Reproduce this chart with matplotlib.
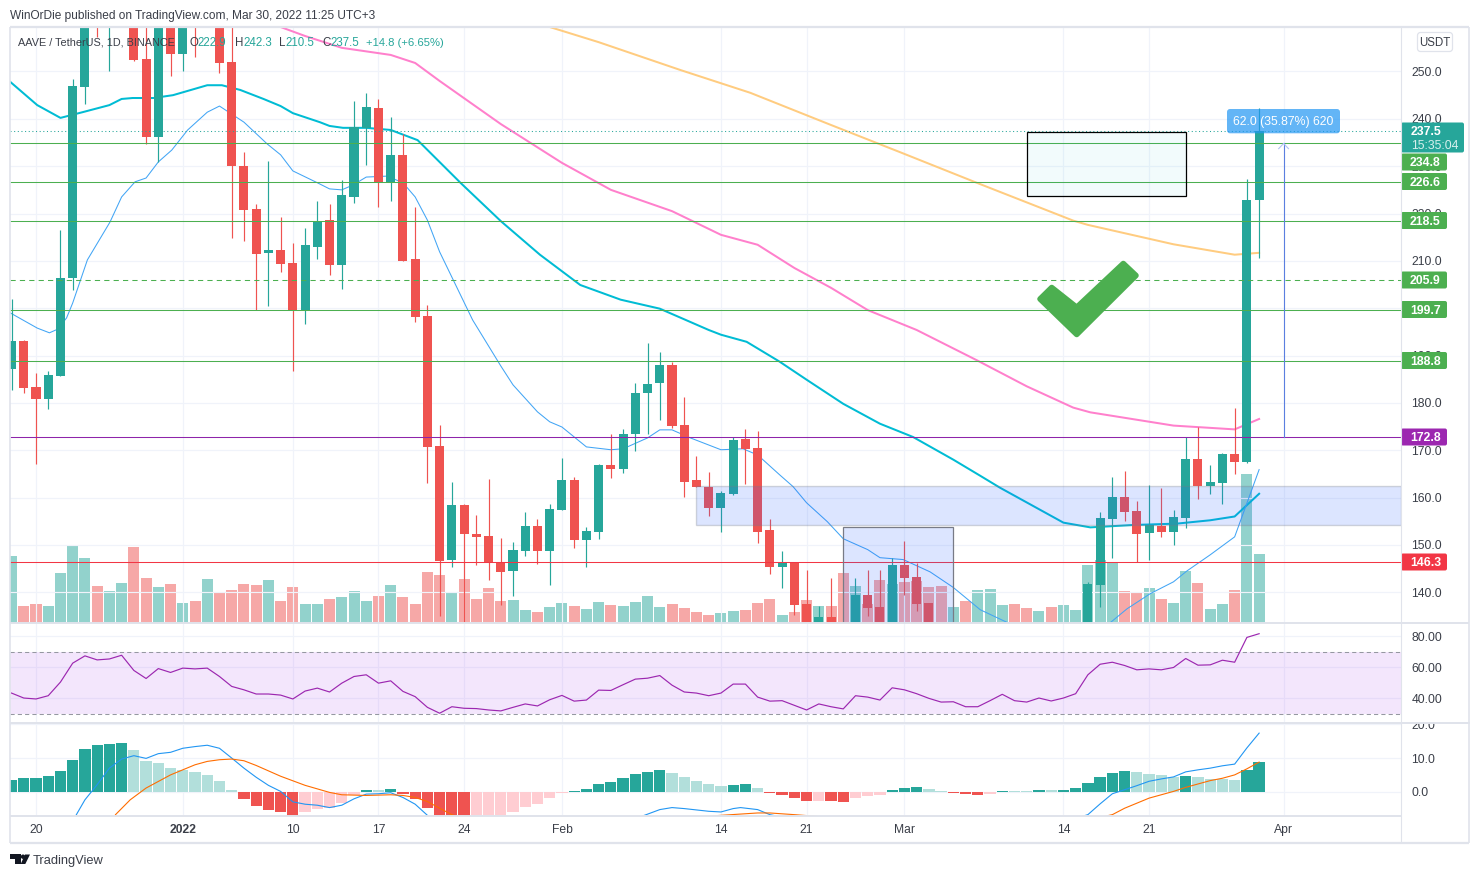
import numpy as np
import matplotlib
matplotlib.use("Agg")
import matplotlib.pyplot as plt
from matplotlib.patches import Rectangle, FancyBboxPatch, Polygon, Circle
from matplotlib.colors import to_rgba
from matplotlib.transforms import ScaledTranslation

plt.rcParams['font.family'] = ['Liberation Sans', 'DejaVu Sans']

# ---- data: daily candles, first candle is 2 days before Dec 20 2021 ----
first_day = -2
opens = [187.2,193.1,183.4,180.8,185.7,206.4,246.7,270,262,265,
         262,252.6,236.2,262,253.7,265,261,262,252,230,
         221,211.7,212.3,209.6,199.6,212.9,218.6,209.1,223.5,238.1,
         242.3,226.7,232.4,210.4,198.4,170.9,146.8,158.5,152.3,151.9,
         146.4,144.5,148.8,154,148.8,157.4,163.8,151.1,152.8,166.9,
         166.1,173.5,182.1,184.2,188,175.4,163.8,162.3,157.8,160.8,
         172.4,170.5,153.2,145.4,146.4,137.6,133,134.8,132.5,133,
         139.5,136.9,132,145.8,143.3,137.8,132,130,131.5,130,
         131,131.5,132.5,131,130,131,130,131,132,141.5,
         155.5,160.1,157.2,152.6,154,152.8,155.7,168.2,162.5,163.1,
         169.3,167.6,222.9]
highs = [202,193.3,186.3,186.8,216.5,248.4,265,272,270,272,
         268,262,264,264,264,268,266,266,262,233,
         222,231.1,219.3,213.8,217,222.7,222,227.1,243.8,245.5,
         244.2,240.4,236.8,221.4,200.7,175.4,163.3,158.7,156.4,164,
         151.5,150.7,157,155.5,158.7,168.4,164.4,153.8,167.1,173.5,
         174.5,184.2,192.7,190.8,188.7,181.3,168.8,165.4,161.4,172.8,
         174.5,174.1,155.5,148.8,146.4,144.7,137.1,143.1,133,143.1,
         144.7,144.7,147.3,150.9,146.2,137.8,132.5,132,132,131.5,
         132,133,133,131.5,131.5,131.5,132,132.5,142.2,157,
         164.4,165.6,159.3,162.6,162,157.4,172.8,174.8,166.9,169.5,
         179,227.2,242.3]
lows = [182.7,182.1,167.1,178.7,185.7,203.9,243.1,257.3,250.1,261,
        252.2,234.7,230.9,249,250.1,253,260.5,249.7,214.8,214.2,
        199.6,200.5,207.7,186.8,196.7,210.4,207,204.1,222.2,230.3,
        221.4,222.7,210,197.1,163.1,135,145.4,133,145.8,142.6,
        137.4,139.3,147.7,146,141.6,157.4,149.4,145.4,151.3,164.2,
        165.2,169.9,173.5,176.4,174.7,160.1,162.3,156,152.8,160.6,
        162.9,150.4,143.9,140.9,135.2,132,132,132,130.5,132,
        135,132,131,139.5,136,131,129.5,129.5,130,129.5,
        130.5,131,130.5,129.5,129,129.5,129.5,130.5,131,136.8,
        147.2,155,146.3,146.9,151.7,149.9,153.5,159.6,160.8,158.7,
        164.9,167.2,210.5]
closes = [193.1,183.2,180.8,185.9,206.4,246.9,262,261,268,268,
          252.4,236.2,262,253.7,262,260.5,264,251.8,230,220.8,
          211.5,212.3,209.4,199.6,213.4,218.4,209.1,223.9,238.3,242.5,
          226.7,232.4,210,198.2,170.7,146.6,158.5,152.3,151.7,146.3,
          144.3,149,154,148.8,157.6,163.8,151.1,153,166.9,166.1,
          173.5,182.1,184,188,175.1,163.3,162.3,157.8,161,172.2,
          170.3,152.8,145.4,146.4,137.3,133,134.8,133,131,139.5,
          136.6,132,145.8,143.1,137.6,132,130,131.5,130,131,
          131.5,132.5,131,130,131,130,131,132,141.8,155.7,
          160.1,157,152.4,154.1,152.8,155.9,168.2,162.5,163.3,169.3,
          167.6,222.9,237.5]
volume_k = [67.3,17.3,19.3,17.3,50.3,77.3,65.3,37.3,32.3,40.3,
            76.3,45.3,36.3,39.3,20.3,22.3,44.3,31.3,33.3,39.3,
            38.3,43.3,22.3,36.3,19.3,19.3,24.3,26.3,32.3,22.3,
            27.3,38.3,26.3,19.3,51.3,48.3,30.3,44.3,24.3,35.3,
            22.3,23.3,13.3,11.3,16.3,20.3,17.3,14.3,21.3,18.3,
            17.3,21.3,27.3,16.3,19.3,15.3,11.3,8.3,10.3,12.3,
            13.3,20.3,24.3,8.3,11.3,23.3,17.3,17.3,50.3,37.3,
            19.3,43.3,39.3,41.3,42.3,36.3,37.3,16.3,22.3,33.3,
            34.1,18.3,19.3,15.2,12.2,16.2,18.3,13.2,58,63.5,
            60.5,32,31,35,24,20,52,40,14,19,
            33,149,69]

ema20_days = [-2.1,0.1,1.1,1.8,2.5,3,4.2,6.05,7,8.1,9,10,11.1,12.4,14,15,17,18.9,20,21,22.2,23,24,25,25.9,27,28.7,30,31,32,33,35.7,38,39,41,42,43,45,47,48,50,51,52,53.5,56,57.8,59,60.8,61.9,63,64.7,66,68,69,70.9,73.1,75,77.2,79.5,82,84,86,87.8,89.2,91.1,93,94.1,96,98,100]
ema20 = [199,195.8,194.8,195.6,197.95,201.1,210.2,218.2,223.5,226.7,227.5,230.9,233.4,237.65,241.4,242.7,239.3,234.7,232.4,229,227.5,226.5,225.2,225,226,227.7,227.9,226.5,223.5,218.6,211.9,197.5,187.8,183.8,178.1,176,174.9,170.7,170.1,170.3,172.6,174.3,174.3,172.6,170.1,170.3,169,164.8,162.3,158.9,154.9,151.3,149,147.3,146.9,144.3,141,136.3,133.5,130,129,130.5,133.5,136.5,139.7,142.2,144.5,147.9,151.7,165.9]
ema50_days = [-2.1,0.1,2,3.8,6,7,7.9,9.6,11.2,14,15.2,16.7,18.6,20,21,23.2,24,25.1,27,29,31.2,34.7,38,41.2,44.5,47.8,51,55,56,58.1,60.8,63,66,69,71.7,75,77.2,78.8,84,86.2,89.7,93.3,96,98,100]
ema50 = [247.8,242.9,240.2,241.4,242.9,244.2,244.4,244.4,245,247.1,247.1,246.1,244.2,242.7,241.2,239.3,238.5,238.1,238.1,237.65,235.5,226.5,218.4,211.3,204.9,201.8,199.9,195.4,194.4,192.9,188.7,184.9,179.8,175.6,172.8,168,164.6,162.1,154.7,153.7,154.2,154.5,155.2,156,160.8]
ema100_days = [20,22,25,29,31,33,38,43,47,52,56,59,62,65,68,72,77,81,84.8,86.2,93,98,100]
ema100 = [259.4,257.5,255,253.5,251.8,248,238.9,230.7,225,220.5,215.5,213.4,208.5,204.3,199.6,195.4,188.9,183.5,179,178,175.2,174.4,176.6]
ema200_days = [42,46,52.7,58.4,65,70.6,77.2,84.8,86,93,98,100]
ema200 = [259.4,256.2,250.3,245.5,238.7,233,226.2,218.5,217.6,213.5,211.3,211.7]

rsi = [43.2,40,39.4,41.5,50.3,62.5,67.2,64.6,65.2,67.6,
       57.8,52.6,59,56.5,59.3,58.8,59.3,53.9,47.5,45.3,
       42.6,42.6,41.9,39.4,44.5,46.4,43.9,49.6,53.9,55,
       49.6,51.1,44.3,40.9,34,30.2,34.4,33.4,33.2,32.3,
       31.7,34,36.2,34.9,38.9,41.7,38,38.7,45.1,44.9,
       48.6,52.2,52.8,54.5,48.3,43.9,43.2,41.5,43.2,49,
       49,40.6,38,38.3,35.3,32.3,36.2,34.4,33,41.5,
       40.6,38.7,46.6,45.3,42.8,39.8,37.4,37.6,34.4,34.4,
       38.3,42.4,38.3,37.4,40,38.1,40,42.8,55,61.8,
       63.1,61,58.2,58.8,58.2,59.7,65.5,61.2,61.4,64.4,
       63.1,79.1,81.5]
macd_hist = [3.6,4.2,4.2,4.8,6.2,9.5,12.8,14,14.3,14.6,
             12.5,9.2,8.6,7.1,6.5,5.9,5,3.3,0.6,-2.1,
             -4.2,-5.3,-5.9,-7.5,-5.9,-5,-4.8,-3.3,-1.1,0.6,
             0.5,0.9,-0.6,-2.1,-4.8,-8,-9,-10,-9.5,-8.5,
             -7.2,-5.9,-4.5,-3.6,-1.8,-0.4,0.3,0.9,2.4,3,
             4.2,5.3,5.9,6.5,5.6,4.5,3.3,2.4,1.8,2.1,
             2.4,1.2,-0.3,-0.9,-1.8,-2.7,-2.6,-2.7,-3,-1.8,
             -1.2,-0.9,0.6,1.2,1.5,0.9,0.3,-0.3,-0.6,-0.9,
             -0.6,0.3,0.25,0.2,0.6,0.55,0.6,1.2,2.7,4.5,
             5.6,6.2,5.9,5.3,5,4.5,4.8,4.5,3.9,3.85,
             3.6,6.5,8.9]
macd_days = [3.3,4,5,6,7,8,9,10,11,12,13,14,15,16,17,18,19,20,21,22,23,24,25,26,27,28,29,30,31,32,34,38,44,49,51,52,53,54,55,56,57,57.6,59,60,63,70,78,84,86,87,88,89,90,91,92,93,94,95,96,97,98,99,100]
macd_line = [-6.8,-2.4,2.1,7,9.7,10.7,9.9,11.3,11.7,12.9,13.4,13.8,12.9,10,7,4.3,1.9,0.1,-3,-3.7,-4,-4.7,-4,-2.1,-0.7,-0.6,-0.3,-1.7,-3.7,-7,-12,-18,-15,-8,-5.3,-4.7,-5,-5.4,-5.8,-6,-5,-4.7,-5.3,-6.8,-9,-11,-11,-9,-6.8,-3.6,-0.6,0.6,1.8,3.1,3.8,4.4,5.9,6.5,7,7.7,8.2,13,17.4]
signal_days = [6.5,7.7,9,11,13,14,15,16,17,18,20,22,24,25,27,29,30,31,32,33,34,38,44,50,56,59,60,62,70,78,84,88,89,90,91,92,93,94,95,96,97,98,99,100]
signal_line = [-6.8,-2.4,1.1,5,8,9,9.5,9.7,9.2,7.8,4.6,1.9,-0.2,-0.9,-1.1,-0.9,-1.1,-1.7,-2.9,-4.9,-6.8,-11,-12,-8.5,-7,-6.3,-6.3,-6.8,-9,-11,-10,-6.8,-4.9,-3.4,-1.9,-0.9,0.1,1.3,2.3,3.3,4,5,6.8,8.8]

price_ticks = [140,150,160,170,180,190,200,210,220,230,240,250]
rsi_ticks = [40,60,80]
macd_ticks = [0,10,20]
time_ticks = [0,12,21,28,35,43,56,63,71,84,91,102]
time_labels = ['20','2022','10','17','24','Feb','14','21','Mar','14','21','Apr']
green_levels = [234.8,226.6,218.5,199.7,188.8]
dashed_level = 205.9
purple_level = 172.8
red_level = 146.3
last_price = 237.5

UP, DOWN = '#26a69a', '#ef5350'
GRID = '#f0f3fa'; SEP = '#e0e3eb'; TXT = '#3a3e48'
W, H = 1479, 878

fig = plt.figure(figsize=(W/100, H/100), dpi=100, facecolor='white')
def pane(y0, y1):
    # one pixel lower than the nominal position, as the reference sits
    return fig.add_axes([10/W, 1-(y1+1)/H, 1391/W, (y1-y0)/H])

xlim = (-2.126, 111.6)
days = np.arange(len(opens)) + first_day
opens_, closes_ = np.array(opens), np.array(closes)
is_up = closes_ >= opens_
cols = [UP if u else DOWN for u in is_up]

ax = pane(27, 623)
vol = ax.twinx()
vol.set_zorder(ax.get_zorder()-1)
ax.patch.set_visible(False)
vol.set_ylim(0, 596); vol.set_yticks([])
vol.bar(days, volume_k, width=0.9, color=cols, alpha=0.5, linewidth=0)
for s in vol.spines.values(): s.set_visible(False)

ax.set_xlim(*xlim); ax.set_ylim(133.5, 259.4)
ax.set_yticks(price_ticks); ax.set_yticklabels([f'{t:.1f}' for t in price_ticks])
ax.yaxis.tick_right()

# moving averages under candles
ax.plot(ema200_days, ema200, color='#ffcc80', lw=1.45, zorder=2)
ax.plot(ema100_days, ema100, color='#ff80cc', lw=1.45, zorder=2)
ax.plot(ema50_days, ema50, color='#00bcd4', lw=1.45, zorder=2)
ax.plot(ema20_days, ema20, color='#42a5f5', lw=0.75, zorder=2)
# candles
ax.vlines(days, lows, highs, colors=cols, lw=0.85, zorder=3)
ax.bar(days, closes_-opens_, bottom=opens_, width=0.74, color=cols, linewidth=0, zorder=3.1)
# level lines
ax.hlines(green_levels, *xlim, colors='#4caf50', lw=0.75, zorder=4)
ax.hlines(dashed_level, *xlim, colors='#4caf50', lw=0.75, linestyles=(0,(5,4)), zorder=4)
ax.hlines(purple_level, *xlim, colors='#8e24aa', lw=0.75, zorder=4)
ax.hlines(red_level, *xlim, colors='#f23645', lw=0.75, zorder=4)
ax.hlines(last_price, *xlim, colors=UP, lw=0.75, linestyles=(0,(1,2.5)), zorder=4)
# drawn zones
ax.add_patch(Rectangle((54, 154.2), xlim[1]-54, 8.2, fc=to_rgba('#2962ff',0.16), ec=to_rgba('#787b86',0.3), lw=1, zorder=5))
ax.add_patch(Rectangle((66, 125), 9, 153.8-125, fc=to_rgba('#2962ff',0.16), ec='#787b86', lw=0.9, zorder=5))
ax.add_patch(Rectangle((81.05, 223.7), 12.95, 13.6, fc=to_rgba('#00bcd4',0.05), ec='black', lw=0.9, zorder=5))
# measure arrow
ax.plot([102,102],[purple_level,green_levels[0]], color='#5b7fe0', lw=0.8, zorder=5)
ax.plot([101.6,102,102.4],[233.7,234.8,233.7], color='#b3c2f2', lw=0.8, zorder=5)

rsi_ax = pane(623, 723)
rsi_ax.set_xlim(*xlim); rsi_ax.set_ylim(23.9, 88.4)
rsi_ax.axhspan(30, 70, color=(145/255,15/255,235/255), alpha=0.1, lw=0, zorder=1)
rsi_ax.hlines([30,70], *xlim, colors='#9598a1', lw=0.75, linestyles=(0,(4,3)), zorder=2)
rsi_ax.plot(days, rsi, color='#9c27b0', lw=0.85, zorder=3)
rsi_ax.set_yticks(rsi_ticks); rsi_ax.set_yticklabels([f'{t:.2f}' for t in rsi_ticks])
rsi_ax.yaxis.tick_right()

macd_ax = pane(723, 816)
macd_ax.set_xlim(*xlim); macd_ax.set_ylim(-7.2, 20.4)
hist = np.array(macd_hist)
prev = np.r_[hist[0], hist[:-1]]
hcol = [('#26a69a' if c >= p else '#b2dfdb') if c >= 0 else ('#ef5350' if c < p else '#ffcdd2') for c, p in zip(hist, prev)]
macd_ax.bar(days, hist, width=0.92, color=hcol, linewidth=0, zorder=2)
macd_ax.plot(macd_days, macd_line, color='#2196f3', lw=0.8, zorder=3)
macd_ax.plot(signal_days, signal_line, color='#ff6d00', lw=0.8, zorder=3)
macd_ax.set_yticks(macd_ticks); macd_ax.set_yticklabels([f'{t:.1f}' for t in macd_ticks])
macd_ax.yaxis.tick_right()

up_1px = ScaledTranslation(0, 0.01, fig.dpi_scale_trans)
for a in (ax, rsi_ax, macd_ax):
    a.set_xticks(time_ticks)
    a.grid(True, color=GRID, lw=0.85, zorder=0)
    a.set_axisbelow(True)
    a.tick_params(length=0, labelsize=8.7, labelcolor=TXT, pad=7.5, labelbottom=False, labelright=True, labelleft=False)
    for s in a.spines.values(): s.set_visible(False)
    for t in a.yaxis.get_major_ticks():
        t.label2.set_transform(t.label2.get_transform() + up_1px)
rsi_ax.patch.set_visible(False); macd_ax.patch.set_visible(False)
macd_ax.set_xticklabels(time_labels)
macd_ax.tick_params(axis='x', labelbottom=True, pad=5)
macd_ax.get_xticklabels()[1].set_fontweight('bold')

# overlay in figure pixels: chrome, labels, tag boxes
ov = fig.add_axes([0,0,1,1], zorder=20)
ov.set_xlim(0, W); ov.set_ylim(H-1, -1); ov.axis('off'); ov.patch.set_visible(False)
ov.add_patch(Rectangle((1402, 712), 66, 10.5, fc='white', ec='none'))
for (x0,y0,x1,y1,lw) in [(10,623,1401,623,1.4),(10,723,1470,723,1.4),(10,816,1401,816,1.4),
                         (1401,27,1401,843,0.8),(9.5,27,1469,27,1.6),(9.5,27,9.5,843,1.2),
                         (9.5,843,1469,843,1.6),(1469,27,1469,843,1.2),(1401,623,1469,623,1.4)]:
    ov.plot([x0,x1],[y0,y1], color=SEP, lw=lw, solid_capstyle='butt')

def tag(y, s, color):
    ov.add_patch(FancyBboxPatch((1401, y-8.5), 46, 17, boxstyle='round,pad=0,rounding_size=2', fc=color, ec='none'))
    ov.text(1425.5, y+0.3, s, color='white', fontsize=8.8, ha='center', va='center', fontweight='bold')
for y, v in [(162,green_levels[0]),(181.5,green_levels[1]),(220.5,green_levels[2]),(280,dashed_level),(309.5,green_levels[3]),(360.5,green_levels[4])]:
    tag(y, f'{v:.1f}', '#4caf50')
tag(437, f'{purple_level:.1f}', '#9c27b0')
tag(562, f'{red_level:.1f}', '#f23645')
ov.add_patch(FancyBboxPatch((1401,122.5),63,30, boxstyle='round,pad=0,rounding_size=2', fc='#26a69a', ec='none'))
ov.text(1411,131,f'{last_price:.1f}',color='white',fontsize=8.8,va='center',fontweight='bold')
ov.text(1411,145,'15:35:04',color='#d7f0ed',fontsize=8.8,va='center')

# measure tag
ov.add_patch(FancyBboxPatch((1227,109),113,24.3, boxstyle='round,pad=0,rounding_size=3', fc=to_rgba('#2196f3',0.7), ec='none'))
ov.text(1283.5,121,'62.0 (35.87%) 620',color='white',fontsize=8.8,ha='center',va='center')

# check mark
ov.add_patch(Polygon([(1040,299),(1051.7,287.5),(1076.7,307.3),(1123.3,263.5),(1136,275.5),(1076.7,334.5)],
                     closed=True, fc='#4caf50', ec='#4caf50', lw=4, joinstyle='round'))

# header text
ov.text(10,14.5,'WinOrDie published on TradingView.com, Mar 30, 2022 11:25 UTC+3',color='#3a3e48',fontsize=8.6,va='center')
ov.text(18,41.5,'AAVE / TetherUS, 1D, BINANCE',color='#3a3e48',fontsize=7.8,va='center')
TEAL='#26a69a'
for x,s,c,fs in [(190,'O','#3a3e48',8.3),(197.5,'222.9',TEAL,8.3),(235,'H','#3a3e48',8.3),(243,'242.3',TEAL,8.3),(279,'L','#3a3e48',8.3),(285.5,'210.5',TEAL,8.3),(322,'C','#3a3e48',8.3),(330,'237.5',TEAL,8.3),(366,'+14.8 (+6.65%)',TEAL,8.1)]:
    ov.text(x,41.5,s,color=c,fontsize=fs,va='center')

# USDT box
ov.add_patch(FancyBboxPatch((1417.5,32.5),35,19, boxstyle='round,pad=0,rounding_size=3', fc='white', ec=SEP, lw=0.9))
ov.text(1435,42.5,'USDT',color=TXT,fontsize=8.3,ha='center',va='center')

# TradingView logo + text
LOGO='#131722'
ov.add_patch(Polygon([(10,854.5),(20.7,854.5),(20.7,864),(15.3,864),(15.3,859.5),(10,859.5)], fc=LOGO, ec='none'))
ov.add_patch(Circle((23,856.7),2.2, fc=LOGO, ec='none'))
ov.add_patch(Polygon([(25,854.5),(30,854.5),(25.3,864),(20.7,864)], fc=LOGO, ec='none'))
ov.text(33,860,'TradingView',color='#3a3e48',fontsize=9.3,va='center')

fig.savefig('out.png', dpi=100, facecolor='white')
